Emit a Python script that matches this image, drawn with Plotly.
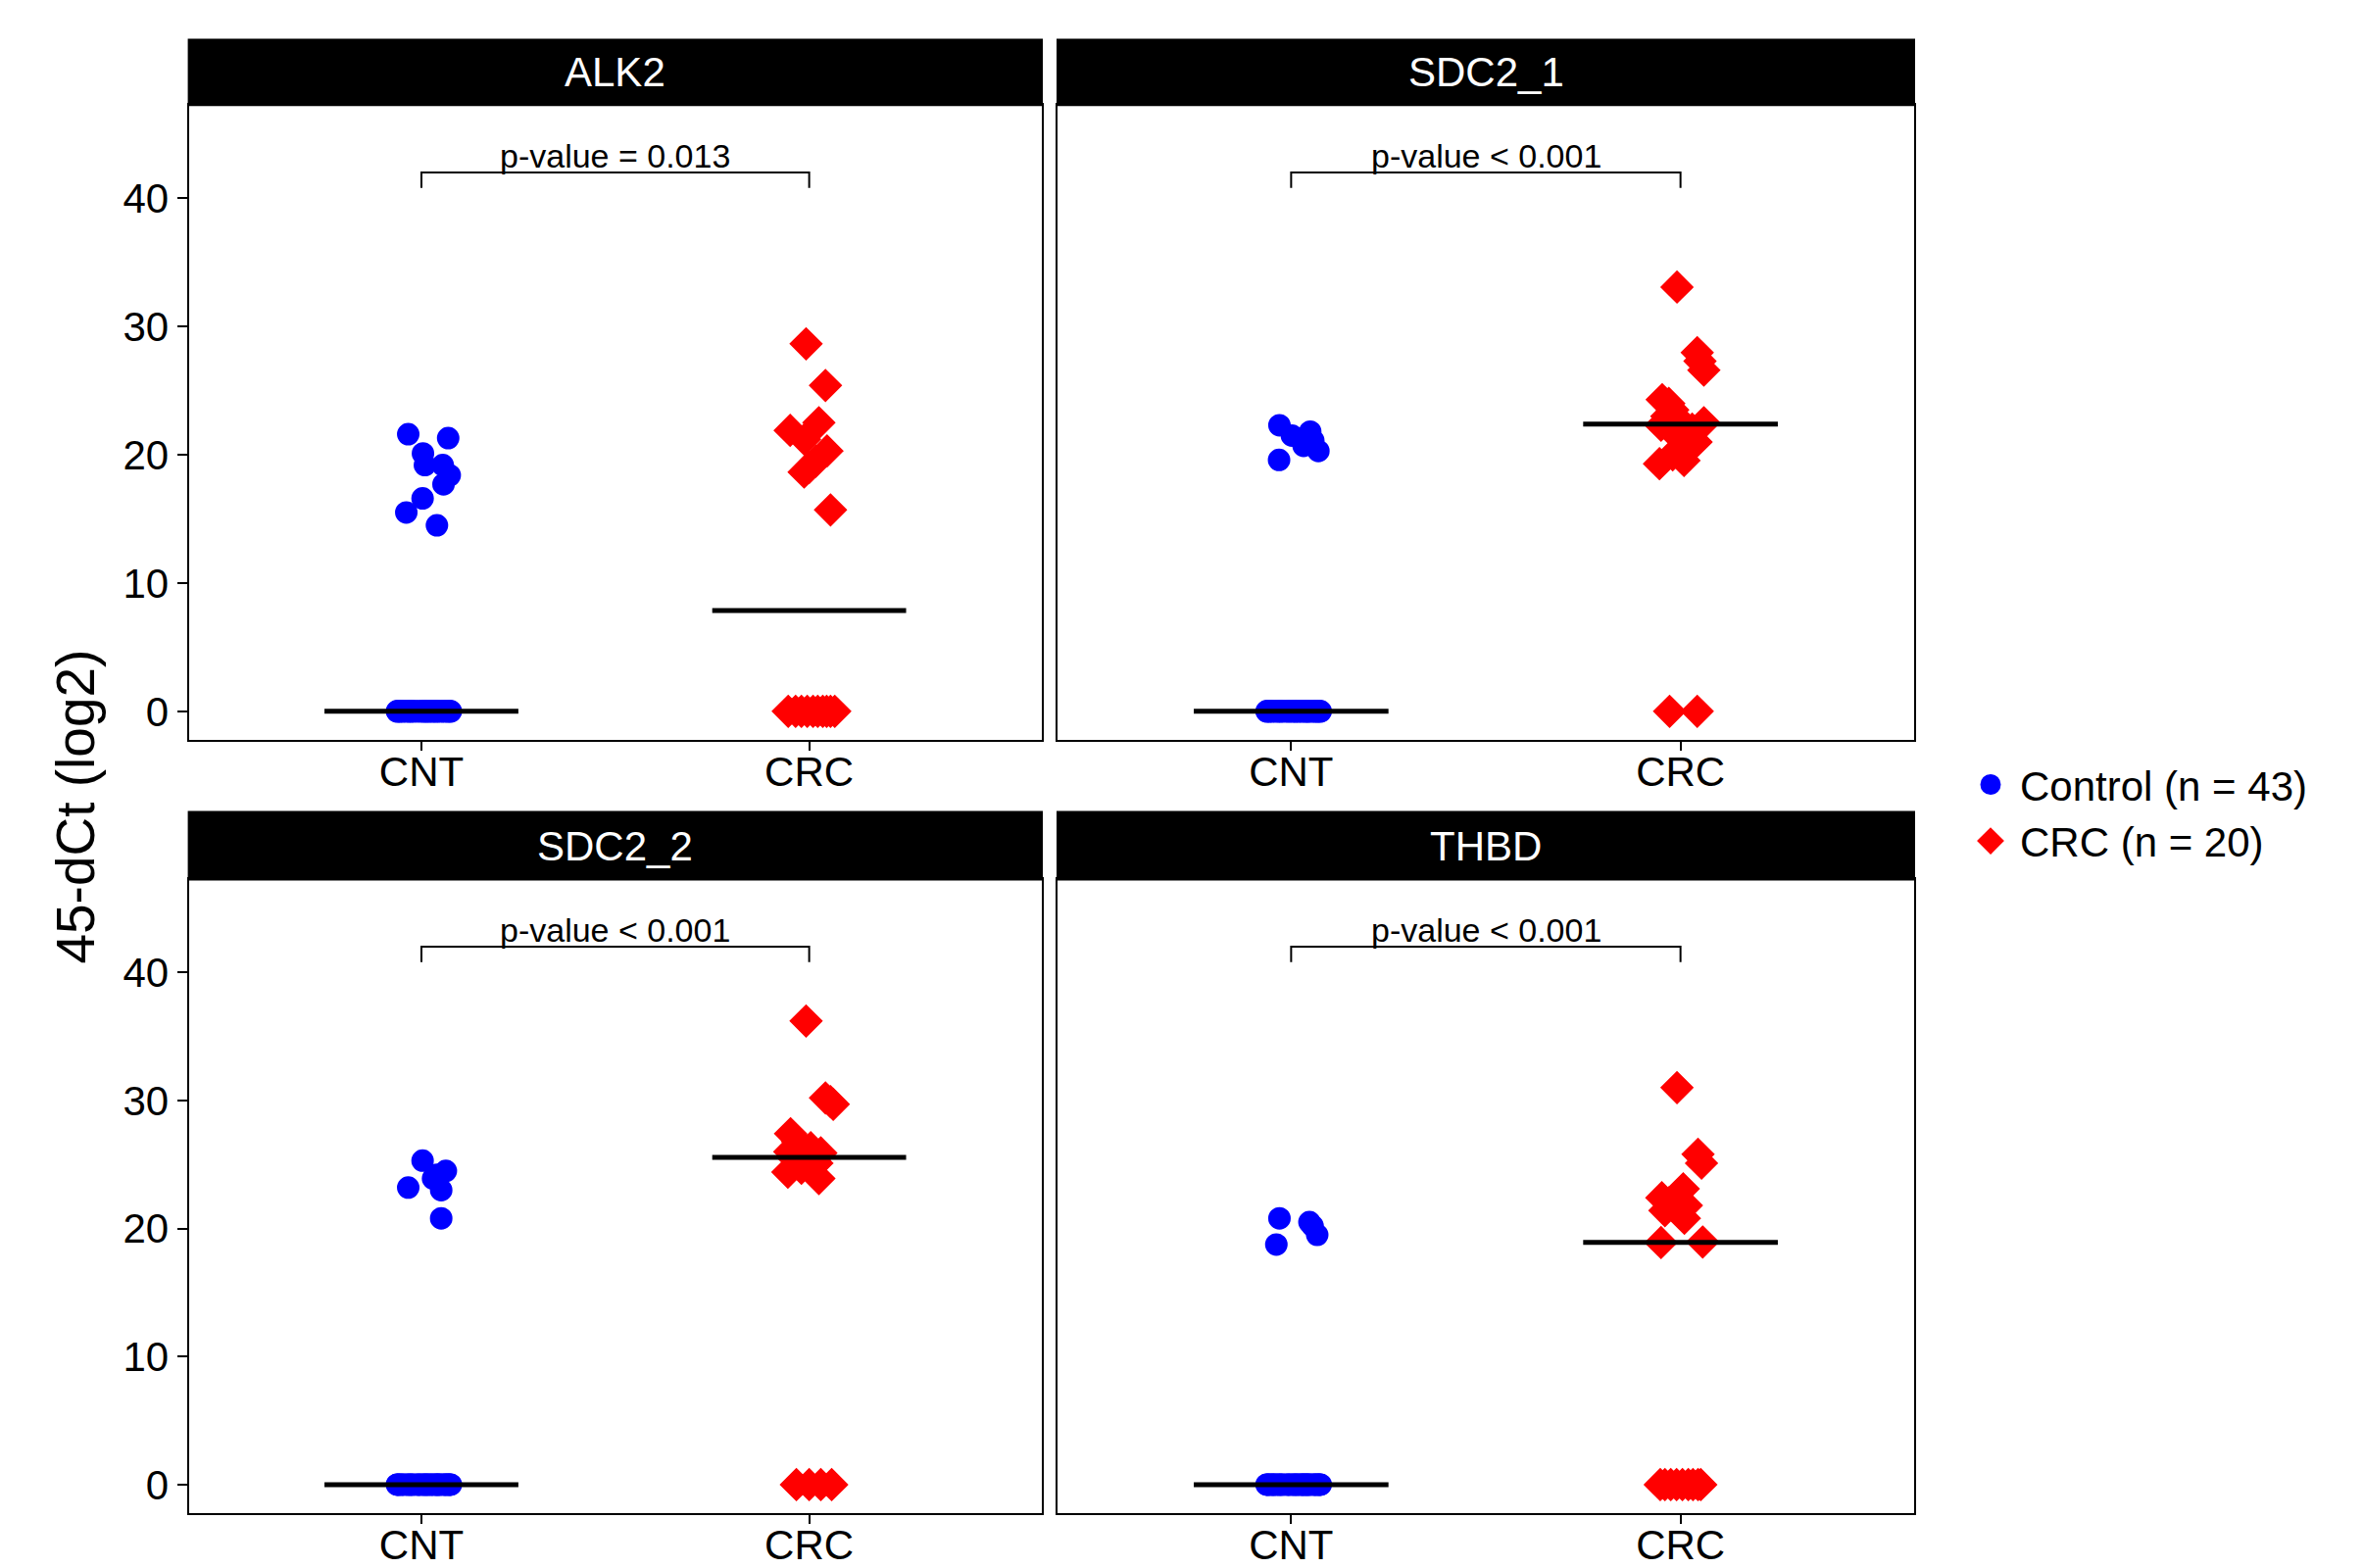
import numpy as np
import plotly.graph_objects as go

# page is 2411x1600; html body has an 8px margin.
OFF = 8
W, H = 2411 - 2 * OFF, 1600 - OFF
VS, VB = 0.996, -0.9   # small measured page->picture vertical correction
FONT = "Liberation Sans, Arial, sans-serif"


def px(x):
    return (x - OFF) / W


def py(y):
    q = (y - VB) / VS
    return 1 - (q - OFF) / H


# ---------------- data ----------------
genes = ["ALK2", "SDC2_1", "SDC2_2", "THBD"]
group_labels = ["CNT", "CRC"]
legend_names = ["Control (n = 43)", "CRC (n = 20)"]
p_texts = ["p-value = 0.013", "p-value < 0.001", "p-value < 0.001", "p-value < 0.001"]
y_ticks = [0, 10, 20, 30, 40]

# shared jitter offsets for the stacked zero values
zero_jitter_cnt = [-0.062, 0.041, -0.018, 0.074, 0.006, -0.047, 0.029, 0.061, -0.031, 0.013,
                   -0.055, 0.052, -0.004, 0.068, -0.024, 0.035, -0.040, 0.021, 0.076, -0.011,
                   0.047, -0.058, 0.002, 0.058, -0.035, 0.026, -0.050, 0.071, 0.010, -0.027,
                   0.038, -0.063, 0.017, 0.064, -0.007, 0.044, -0.044, 0.031]

# ALK2
alk2_cnt = [21.6, 21.3, 20.1, 19.2, 19.2, 18.4, 17.7, 16.6, 15.5, 14.5] + [0.0] * 33
alk2_cnt_jitter = [-0.034, 0.069, 0.004, 0.009, 0.055, 0.073, 0.057, 0.003, -0.039, 0.040] + zero_jitter_cnt[:33]
alk2_crc = [28.65, 25.4, 22.5, 21.9, 21.2, 20.3, 19.5, 19.0, 18.65, 15.7] + [0.0] * 10
alk2_crc_jitter = [-0.008, 0.042, 0.025, -0.049, -0.012, 0.046, 0.017, 0.000, -0.013, 0.055,
                   -0.054, -0.035, -0.020, -0.005, 0.010, 0.022, 0.035, 0.045, 0.055, 0.066]

# SDC2_1
sdc21_cnt = [22.3, 21.8, 21.5, 21.1, 20.7, 20.3, 19.6] + [0.0] * 36
sdc21_cnt_jitter = [-0.030, 0.049, 0.002, 0.057, 0.032, 0.070, -0.031] + zero_jitter_cnt[:36]
sdc21_crc = [33.07, 27.96, 27.3, 26.6, 24.3, 24.0, 23.5, 23.0, 22.6, 22.5, 22.3, 22.0, 21.5,
             21.0, 20.6, 20.0, 19.55, 19.3, 0.0, 0.0]
sdc21_crc_jitter = [-0.009, 0.043, 0.050, 0.060, -0.047, -0.030, -0.020, -0.035, 0.000, 0.060,
                    -0.050, 0.030, -0.010, 0.040, 0.022, -0.020, 0.009, -0.054, -0.028, 0.043]

# SDC2_2
sdc22_cnt = [25.3, 24.5, 24.2, 23.9, 23.2, 23.0, 20.8] + [0.0] * 36
sdc22_cnt_jitter = [0.003, 0.063, 0.040, 0.030, -0.034, 0.051, 0.051] + zero_jitter_cnt[:36]
sdc22_crc = [36.2, 30.2, 29.9, 29.7, 27.4, 26.8, 26.3, 26.0, 25.9, 25.6, 25.5, 25.3, 25.1,
             24.7, 24.4, 23.9, 0.0, 0.0, 0.0, 0.0]
sdc22_crc_jitter = [-0.008, 0.042, 0.055, 0.062, -0.048, -0.030, 0.004, -0.050, 0.030, 0.015,
                    -0.040, 0.000, 0.020, -0.020, -0.055, 0.025, -0.033, 0.000, 0.030, 0.058]

# THBD
thbd_cnt = [20.8, 20.5, 20.2, 19.5, 18.75] + [0.0] * 38
thbd_cnt_jitter = [-0.030, 0.047, 0.055, 0.067, -0.038] + zero_jitter_cnt[:38]
thbd_crc = [31.0, 25.8, 25.1, 23.1, 22.4, 22.0, 21.8, 21.4, 20.8, 18.95, 18.9] + [0.0] * 9
thbd_crc_jitter = [-0.009, 0.045, 0.054, 0.007, -0.048, -0.030, 0.015, -0.040, 0.010, 0.057, -0.050,
                   -0.052, -0.040, -0.025, -0.010, 0.005, 0.020, 0.032, 0.045, 0.052]

panel_data = [
    (alk2_cnt, alk2_cnt_jitter, alk2_crc, alk2_crc_jitter),
    (sdc21_cnt, sdc21_cnt_jitter, sdc21_crc, sdc21_crc_jitter),
    (sdc22_cnt, sdc22_cnt_jitter, sdc22_crc, sdc22_crc_jitter),
    (thbd_cnt, thbd_cnt_jitter, thbd_crc, thbd_crc_jitter),
]

# ---------------- layout geometry ----------------
x_domains = [[px(192.6), px(1063)], [px(1079), px(1953)]]
y_domains = [[py(755.6), py(106.6)], [py(1546), py(898)]]
strip_tops = [py(39.7), py(829)]
y_range = [-2.25, 47.25]
bracket_y = 42.0
bracket_tip = 40.8

colors = ["#0000FF", "#FF0000"]
symbols = ["circle", "diamond"]
sizes = [19, 22]
TICK_FS = 42

fig = go.Figure()
shapes = []
annotations = []
layout_axes = {}

for k, gene in enumerate(genes):
    row, col = divmod(k, 2)
    sfx = "" if k == 0 else str(k + 1)
    xa, ya = "x" + sfx, "y" + sfx
    cnt, cnt_j, crc, crc_j = panel_data[k]
    for g, (vals, jit) in enumerate([(cnt, cnt_j), (crc, crc_j)]):
        pos = g + 1
        fig.add_trace(go.Scatter(
            x=[pos + j for j in jit], y=vals, xaxis=xa, yaxis=ya, mode="markers",
            marker=dict(symbol=symbols[g], size=sizes[g], color=colors[g],
                        line=dict(width=4, color=colors[g])),
            showlegend=False, hoverinfo="y"))
    for g, vals in enumerate([cnt, crc]):
        pos = g + 1
        med = float(np.median(vals))
        fig.add_trace(go.Scatter(
            x=[pos - 0.25, pos + 0.25], y=[med, med], xaxis=xa, yaxis=ya, mode="lines",
            line=dict(color="black", width=5), showlegend=False, hoverinfo="skip"))

    xd, yd = x_domains[col], y_domains[row]
    layout_axes["xaxis" + sfx] = dict(
        domain=xd, anchor=ya, range=[0.4, 2.6], tickvals=[1, 2], ticktext=group_labels,
        showline=True, mirror=True, linecolor="black", linewidth=2,
        ticks="outside", ticklen=9, tickwidth=2, tickcolor="black",
        ticklabelstandoff=-15,
        showgrid=False, zeroline=False,
        tickfont=dict(size=TICK_FS, color="black", family=FONT))
    layout_axes["yaxis" + sfx] = dict(
        domain=yd, anchor=xa, range=y_range, tickvals=y_ticks,
        showline=True, mirror=True, linecolor="black", linewidth=2,
        ticks="outside" if col == 0 else "", ticklen=10, tickwidth=2, tickcolor="black",
        showticklabels=(col == 0), showgrid=False, zeroline=False,
        tickfont=dict(size=TICK_FS, color="black", family=FONT))

    # facet strip
    st = strip_tops[row]
    shapes.append(dict(type="rect", xref="paper", yref="paper", x0=xd[0], x1=xd[1],
                       y0=yd[1], y1=st, fillcolor="black",
                       line=dict(color="black", width=2), layer="above"))
    annotations.append(dict(text=gene, xref="paper", yref="paper",
                            x=(xd[0] + xd[1]) / 2, y=(yd[1] + st) / 2,
                            xanchor="center", yanchor="middle", showarrow=False,
                            font=dict(size=42, color="white", family=FONT)))
    # significance bracket
    shapes.append(dict(type="path", xref=xa, yref=ya,
                       path=f"M 1,{bracket_tip} L 1,{bracket_y} L 2,{bracket_y} L 2,{bracket_tip}",
                       line=dict(color="black", width=2)))
    annotations.append(dict(text=p_texts[k], xref=xa, yref=ya, x=1.5, y=bracket_y,
                            xanchor="center", yanchor="bottom", showarrow=False, yshift=-4,
                            font=dict(size=34, color="black", family=FONT)))

# y-axis title
annotations.append(dict(text="45-dCt (log2)", xref="paper", yref="paper",
                        x=px(77), y=py(824), xanchor="center", yanchor="middle",
                        textangle=-90, showarrow=False,
                        font=dict(size=55, color="black", family=FONT)))

# legend entries
for g in range(2):
    fig.add_trace(go.Scatter(
        x=[None], y=[None], mode="markers", name=legend_names[g],
        marker=dict(symbol=symbols[g], size=sizes[g], color=colors[g],
                    line=dict(width=6, color=colors[g])),
        showlegend=True))

fig.update_layout(
    width=W, height=H, margin=dict(l=0, r=0, t=0, b=0),
    paper_bgcolor="white", plot_bgcolor="white",
    font=dict(family=FONT, color="black"),
    shapes=shapes, annotations=annotations,
    legend=dict(x=px(2001), y=1 - (771 - OFF) / H, xanchor="left", yanchor="top",
                font=dict(size=42, family=FONT, color="black"),
                itemsizing="trace", itemwidth=50,
                bgcolor="rgba(0,0,0,0)", tracegroupgap=0),
    **layout_axes,
)

fig.write_html("out.html")
